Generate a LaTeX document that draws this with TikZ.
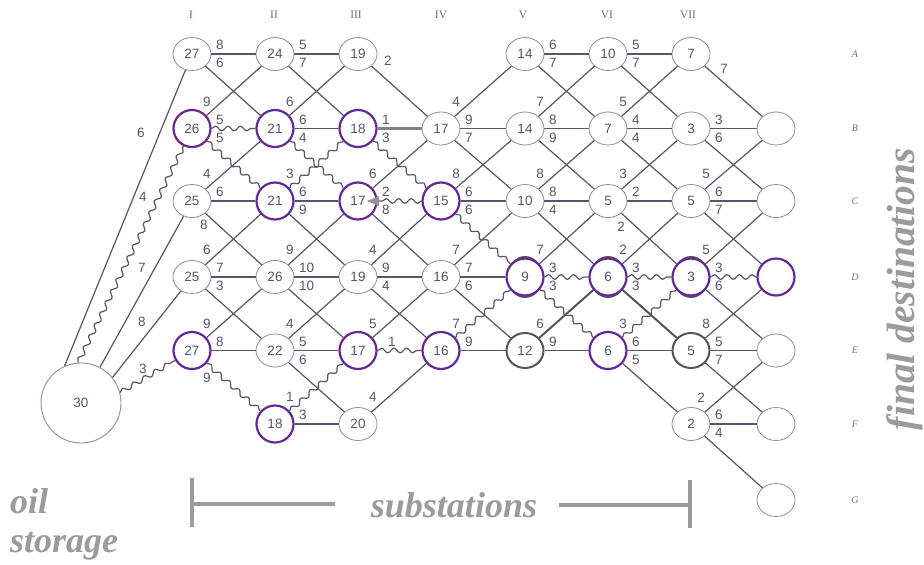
\documentclass[tikz,border=0pt]{standalone}
\usepackage{fontspec}
\setmainfont{Liberation Serif}
\setsansfont{Liberation Sans}
\usetikzlibrary{shapes.geometric,decorations.pathmorphing}
\definecolor{lnc}{RGB}{85,85,108}
\definecolor{ndc}{RGB}{140,140,165}
\definecolor{purc}{RGB}{102,40,150}
\definecolor{dkc}{RGB}{85,85,85}
\definecolor{txc}{RGB}{85,85,110}
\definecolor{capc}{RGB}{155,155,155}
\definecolor{hdc}{RGB}{110,110,120}
\newcommand\myNum{\sffamily\fontsize{13.5}{14}\selectfont}
\newcommand\labH[3]{\path (#1) +(24,-9) node[lbl,anchor=west]{#2} +(24,9) node[lbl,anchor=west]{#3};}
\newcommand\labT[2]{\path (#1) +(24,-9) node[lbl,anchor=west]{#2};}
\newcommand\labU[2]{\path (#1) +(15,-27) node[lbl]{#2};}
\newcommand\labAt[4]{\path (#1) +(#2,#3) node[lbl]{#4};}
\begin{document}
\begin{tikzpicture}[x=1pt,y=-1pt,
  nd/.style={ellipse,draw=ndc,line width=0.8pt,minimum width=38pt,minimum height=33pt,inner sep=0pt,fill=white,text=txc,font=\myNum},
  pn/.style={circle,draw=purc,line width=2.2pt,minimum size=37pt,inner sep=0pt,fill=white,text=txc,font=\myNum},
  dn/.style={ellipse,draw=dkc,line width=2pt,minimum width=37pt,minimum height=35pt,inner sep=0pt,fill=white,text=txc,font=\myNum},
  conn/.style={draw=lnc,line width=1.2pt},
  wavy/.style={conn,decorate,decoration={snake,segment length=12.5pt,amplitude=2.3pt}},
  thk/.style={draw=dkc,line width=2pt},
  gth/.style={draw=gray,line width=2.4pt},
  lbl/.style={text=txc,font=\myNum,inner sep=0pt},
  hdr/.style={text=hdc,font=\fontsize{11.5}{12}\selectfont},
  rowl/.style={text=hdc,font=\itshape\fontsize{10}{11}\selectfont},
  capt/.style={text=capc,font=\bfseries\itshape\fontsize{36}{40}\selectfont,inner sep=0pt},
  brk/.style={draw=capc,line width=4pt}
]
\fill[white] (0,0) rectangle (924,565);
\useasboundingbox (0,0) rectangle (924,565);

% column and row headers
\node[hdr] (h1) at (191,15) {I};
\node[hdr] (h2) at (274,15) {II};
\node[hdr] (h3) at (356,15) {III};
\node[hdr] (h4) at (441,15) {IV};
\node[hdr] (h5) at (523,15) {V};
\node[hdr] (h6) at (607,15) {VI};
\node[hdr] (h7) at (688,15) {VII};
\node[rowl] (rA) at (855,54) {A};
\node[rowl] (rB) at (855,128) {B};
\node[rowl] (rC) at (855,201) {C};
\node[rowl] (rD) at (855,277) {D};
\node[rowl] (rE) at (855,350) {E};
\node[rowl] (rF) at (855,424) {F};
\node[rowl] (rG) at (855,500) {G};

% under-rings for D5..D7
\node[dn,minimum width=34pt,minimum height=40pt] (D5r) at (525,277) {};
\node[dn,minimum width=34pt,minimum height=40pt] (D6r) at (608,277) {};
\node[dn,minimum width=34pt,minimum height=40pt] (D7r) at (691,277) {};

% nodes
\node[nd] (A1) at (192,54) {27};
\node[nd] (A2) at (275,54) {24};
\node[nd] (A3) at (358,54) {19};
\node[nd] (A5) at (525,54) {14};
\node[nd] (A6) at (608,54) {10};
\node[nd] (A7) at (691,54) {7};
\node[pn] (B1) at (192,128.5) {26};
\node[pn] (B2) at (275,128.5) {21};
\node[pn] (B3) at (358,128.5) {18};
\node[nd] (B4) at (441,128.5) {17};
\node[nd] (B5) at (525,128.5) {14};
\node[nd] (B6) at (608,128.5) {7};
\node[nd] (B7) at (691,128.5) {3};
\node[nd] (B8) at (776,128.5) {};
\node[nd] (C1) at (192,201) {25};
\node[pn] (C2) at (275,201) {21};
\node[pn] (C3) at (358,201) {17};
\node[pn] (C4) at (441,201) {15};
\node[nd] (C5) at (525,201) {10};
\node[nd] (C6) at (608,201) {5};
\node[nd] (C7) at (691,201) {5};
\node[nd] (C8) at (776,201) {};
\node[nd] (D1) at (192,277) {25};
\node[nd] (D2) at (275,277) {26};
\node[nd] (D3) at (358,277) {19};
\node[nd] (D4) at (441,277) {16};
\node[pn] (D5) at (525,277) {9};
\node[pn] (D6) at (608,277) {6};
\node[pn] (D7) at (691,277) {3};
\node[pn] (D8) at (776,277) {};
\node[pn] (E1) at (192,350.5) {27};
\node[nd] (E2) at (275,350.5) {22};
\node[pn] (E3) at (358,350.5) {17};
\node[pn] (E4) at (441,350.5) {16};
\node[dn] (E5) at (525,350.5) {12};
\node[pn] (E6) at (608,350.5) {6};
\node[dn] (E7) at (691,350.5) {5};
\node[nd] (E8) at (776,350.5) {};
\node[pn] (F2) at (275,424) {18};
\node[nd] (F3) at (358,424) {20};
\node[nd] (F7) at (691,424) {2};
\node[nd] (F8) at (776,424) {};
\node[nd] (G8) at (776,500) {};
\node[circle,draw=ndc,line width=0.9pt,minimum size=80pt,inner sep=0pt,text=txc,font=\myNum] (S) at (81,403) {30};

% edges from source
\draw[conn] (S.114) -- (A1);
\draw[wavy] (S.94) -- (B1);
\draw[conn] (S.62) -- (C1);
\draw[conn] (S.39) -- (D1);
\draw[wavy] (S.15) -- (E1);

% row A
\draw[conn] (A1) -- (A2); \draw[conn] (A1) -- (B2);
\draw[conn] (A2) -- (A3); \draw[conn] (A2) -- (B3);
\draw[conn] (A3) -- (B4);
\draw[conn] (A5) -- (A6); \draw[conn] (A5) -- (B6);
\draw[conn] (A6) -- (A7); \draw[conn] (A6) -- (B7);
\draw[conn] (A7) -- (B8);
% row B
\draw[conn] (B1) -- (A2); \draw[wavy] (B1) -- (B2); \draw[wavy] (B1) -- (C2);
\draw[conn] (B2) -- (A3); \draw[conn] (B2) -- (B3); \draw[wavy] (B2) -- (C3);
\draw[gth] (B3) -- (B4); \draw[wavy] (B3) -- (C4);
\draw[conn] (B4) -- (A5); \draw[conn] (B4) -- (B5); \draw[conn] (B4) -- (C5);
\draw[conn] (B5) -- (A6); \draw[conn] (B5) -- (B6); \draw[conn] (B5) -- (C6);
\draw[conn] (B6) -- (A7); \draw[conn] (B6) -- (B7); \draw[conn] (B6) -- (C7);
\draw[conn] (B7) -- (B8); \draw[conn] (B7) -- (C8);
% row C
\draw[conn] (C1) -- (B2); \draw[conn] (C1) -- (C2); \draw[conn] (C1) -- (D2);
\draw[wavy] (C2) -- (B3); \draw[conn] (C2) -- (C3); \draw[conn] (C2) -- (D3);
\draw[conn] (C3) -- (B4); \draw[wavy] (C4) -- (C3); \draw[conn] (C3) -- (D4);
\draw[conn] (C4) -- (B5); \draw[conn] (C4) -- (C5); \draw[wavy] (C4) -- (D5);
\draw[conn] (C5) -- (B6); \draw[conn] (C5) -- (C6); \draw[conn] (C5) -- (D6);
\draw[conn] (C6) -- (B7); \draw[conn] (C6) -- (C7); \draw[conn] (C6) -- (D7);
\draw[conn] (C7) -- (B8); \draw[conn] (C7) -- (C8); \draw[conn] (C7) -- (D8);
% row D
\draw[conn] (D1) -- (C2); \draw[conn] (D1) -- (D2); \draw[conn] (D1) -- (E2);
\draw[conn] (D2) -- (C3); \draw[conn] (D2) -- (D3); \draw[conn] (D2) -- (E3);
\draw[conn] (D3) -- (C4); \draw[conn] (D3) -- (D4); \draw[conn] (D3) -- (E4);
\draw[conn] (D4) -- (C5); \draw[conn] (D4) -- (D5); \draw[conn] (D4) -- (E5);
\draw[conn] (D5) -- (C6); \draw[wavy] (D5) -- (D6); \draw[wavy] (D5) -- (E6);
\draw[conn] (D6) -- (C7); \draw[wavy] (D6) -- (D7); \draw[thk] (D6) -- (E7);
\draw[conn] (D7) -- (C8); \draw[wavy] (D7) -- (D8); \draw[conn] (D7) -- (E8);
% row E
\draw[conn] (E1) -- (D2); \draw[conn] (E1) -- (E2); \draw[wavy] (E1) -- (F2);
\draw[conn] (E2) -- (D3); \draw[conn] (E2) -- (E3); \draw[conn] (E2) -- (F3);
\draw[conn] (E3) -- (D4); \draw[wavy] (E3) -- (E4);
\draw[wavy] (E4) -- (D5); \draw[conn] (E4) -- (E5);
\draw[thk] (E5) -- (D6); \draw[conn] (E5) -- (E6);
\draw[wavy] (E6) -- (D7); \draw[conn] (E6) -- (E7); \draw[conn] (E6) -- (F7);
\draw[conn] (E7) -- (D8); \draw[conn] (E7) -- (E8); \draw[conn] (E7) -- (F8);
% row F
\draw[wavy] (F2) -- (E3); \draw[conn] (F2) -- (F3);
\draw[conn] (F3) -- (E4);
\draw[conn] (F7) -- (E8); \draw[conn] (F7) -- (F8); \draw[conn] (F7) -- (G8);

% arrow head at C3
\fill[gray!85] ([xshift=9pt]C3.center) -- ++(12,-5) -- ++(0,10) -- cycle;

% labels
\labAt{S}{60}{-270}{6} \labAt{S}{62}{-206}{4} \labAt{S}{61}{-135}{7}
\labAt{S}{61}{-81}{8} \labAt{S}{62}{-34}{3}
\labH{A1}{8}{6} \labH{A2}{5}{7} \labAt{A3}{30}{7}{2}
\labH{A5}{6}{7} \labH{A6}{5}{7} \labAt{A7}{33}{15}{7}
\labU{B1}{9} \labH{B1}{5}{5}
\labU{B2}{6} \labH{B2}{6}{4}
\labH{B3}{1}{3}
\labU{B4}{4} \labH{B4}{9}{7}
\labU{B5}{7} \labH{B5}{8}{9}
\labU{B6}{5} \labH{B6}{4}{4}
\labH{B7}{3}{6}
\labU{C1}{4} \labT{C1}{6} \labAt{C1}{12}{24}{8}
\labU{C2}{3} \labH{C2}{6}{9}
\labU{C3}{6} \labH{C3}{2}{8}
\labU{C4}{8} \labH{C4}{6}{6}
\labU{C5}{8} \labH{C5}{8}{4}
\labU{C6}{3} \labT{C6}{2} \labAt{C6}{13}{26}{2}
\labU{C7}{5} \labH{C7}{6}{7}
\labU{D1}{6} \labH{D1}{7}{3}
\labU{D2}{9} \labH{D2}{10}{10}
\labU{D3}{4} \labH{D3}{9}{4}
\labU{D4}{7} \labH{D4}{7}{6}
\labU{D5}{7} \labH{D5}{3}{3}
\labU{D6}{2} \labH{D6}{3}{3}
\labU{D7}{5} \labH{D7}{3}{6}
\labU{E1}{9} \labT{E1}{8} \labAt{E1}{15}{27}{9}
\labU{E2}{4} \labH{E2}{5}{6}
\labU{E3}{5} \labAt{E3}{34}{-9}{1}
\labU{E4}{7} \labT{E4}{9}
\labU{E5}{6} \labT{E5}{9}
\labU{E6}{3} \labH{E6}{6}{5}
\labU{E7}{8} \labH{E7}{5}{7}
\labU{F2}{1} \labT{F2}{3}
\labU{F3}{4}
\labAt{F7}{10}{-26}{2} \labH{F7}{6}{4}

% captions
\node[capt,anchor=base west] (oil) at (10,513) {oil};
\node[capt,anchor=base west] (sto) at (10,552) {storage};
\node[capt,anchor=base] (sub) at (454,517) {substations};
\node[capt,font=\bfseries\itshape\fontsize{39.5}{42}\selectfont,rotate=90,anchor=base] (fin) at (914,289) {final destinations};

% bracket
\draw[brk] (192,478) -- (192,527);
\draw[brk] (192,504) -- (335,504);
\draw[brk] (559,505) -- (690,505);
\draw[brk] (690,480) -- (690,528);
\end{tikzpicture}
\end{document}
